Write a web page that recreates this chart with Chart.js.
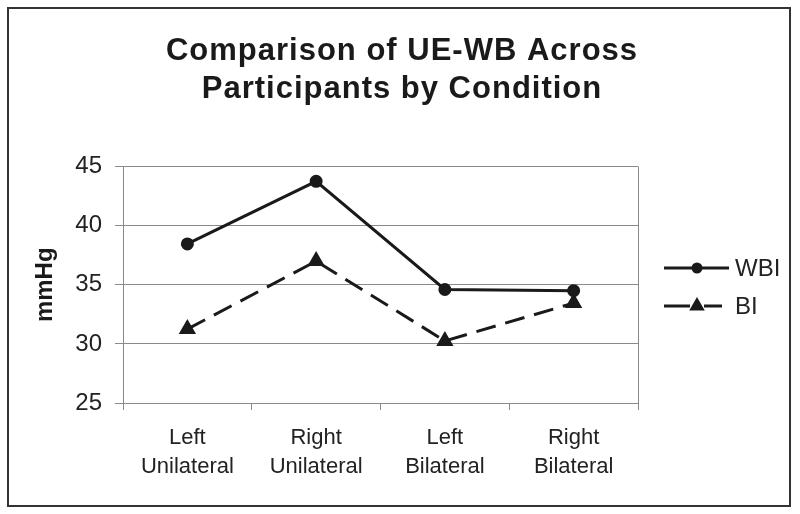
<!DOCTYPE html>
<html>
<head>
<meta charset="utf-8">
<script src="https://cdn.jsdelivr.net/npm/chart.js@4.4.0/dist/chart.umd.min.js"></script>
<style>
  html, body { margin: 0; padding: 0; background: #fff; }
  #wrap { position: relative; width: 800px; height: 514px; }
</style>
</head>
<body>
<div id="wrap"><canvas id="chart" width="800" height="514"></canvas></div>
<script>
// data
const categories = [['Left', 'Unilateral'], ['Right', 'Unilateral'], ['Left', 'Bilateral'], ['Right', 'Bilateral']];
const wbiValues = [38.45, 43.75, 34.6, 34.5];
const biValues = [31.25, 37.0, 30.25, 33.45];
const yTicks = [25, 30, 35, 40, 45];
const titleLines = ['Comparison of UE-WB Across', 'Participants by Condition'];

const FONT = '"Liberation Sans", Arial, sans-serif';
const INK = '#1a1a1a';
const GRID = '#8a8a8a';

// outer frame, centred title, right edge of the plot box
const framePlugin = {
  id: 'frame',
  beforeDraw(chart) {
    const ctx = chart.ctx;
    ctx.save();
    ctx.fillStyle = '#fff';
    ctx.fillRect(0, 0, chart.width, chart.height);
    ctx.restore();
  },
  afterDraw(chart) {
    const ctx = chart.ctx;
    const a = chart.chartArea;
    ctx.save();
    ctx.strokeStyle = GRID;
    ctx.lineWidth = 1;
    ctx.beginPath();
    ctx.moveTo(Math.round(a.right) + 0.5, a.top);
    ctx.lineTo(Math.round(a.right) + 0.5, a.bottom + 7);
    ctx.stroke();
    ctx.strokeStyle = '#333';
    ctx.lineWidth = 2;
    ctx.strokeRect(8, 8, 782, 498);

    // title (the built-in one centres on the plot, not the whole frame)
    ctx.fillStyle = '#1a1a1a';
    ctx.font = 'bold 31px ' + FONT;
    if ('letterSpacing' in ctx) ctx.letterSpacing = '1px';
    ctx.textAlign = 'center';
    ctx.textBaseline = 'alphabetic';
    titleLines.forEach((t, i) => ctx.fillText(t, 402, 60 + i * 38));
    ctx.restore();
  }
};

// legend drawn as line + marker like the original
const lineLegendPlugin = {
  id: 'lineLegend',
  afterDraw(chart) {
    const ctx = chart.ctx;
    const rows = [268, 306];
    ctx.save();
    chart.data.datasets.forEach((ds, i) => {
      const y = rows[i];
      ctx.strokeStyle = ds.borderColor;
      ctx.lineWidth = ds.borderWidth;
      ctx.beginPath();
      if (ds.borderDash && ds.borderDash.length) {
        ctx.moveTo(664, y); ctx.lineTo(690, y);
        ctx.moveTo(704, y); ctx.lineTo(722, y);
      } else {
        ctx.moveTo(664, y); ctx.lineTo(729, y);
      }
      ctx.stroke();
      Chart.helpers.drawPoint(ctx, {
        pointStyle: ds.pointStyle,
        radius: ds.pointRadius - 1,
        borderWidth: 1
      }, 697, y);
      ctx.fillStyle = ds.pointBackgroundColor;
      ctx.fill();
      ctx.fillStyle = '#222';
      ctx.font = '24px ' + FONT;
      ctx.textAlign = 'left';
      ctx.textBaseline = 'middle';
      ctx.fillText(ds.label, 735, y + 1);
    });
    ctx.restore();
  }
};

new Chart(document.getElementById('chart'), {
  type: 'line',
  data: {
    labels: categories,
    datasets: [
      {
        label: 'WBI',
        data: wbiValues,
        borderColor: INK,
        backgroundColor: INK,
        pointBackgroundColor: INK,
        pointBorderColor: INK,
        borderWidth: 3,
        pointStyle: 'circle',
        pointRadius: 5,
        tension: 0
      },
      {
        label: 'BI',
        data: biValues,
        borderColor: INK,
        backgroundColor: INK,
        pointBackgroundColor: INK,
        pointBorderColor: INK,
        borderWidth: 3,
        borderDash: [20, 10],
        pointStyle: 'triangle',
        pointRadius: 7,
        tension: 0
      }
    ]
  },
  options: {
    responsive: false,
    animation: false,
    layout: { padding: { top: 166.5, right: 162, bottom: 0, left: 0 } },
    plugins: {
      legend: { display: false },
      tooltip: { enabled: false },
      title: { display: false }
    },
    scales: {
      x: {
        offset: true,
        grid: {
          offset: true,
          drawOnChartArea: false,
          drawTicks: true,
          tickLength: 7,
          color: GRID
        },
        border: { color: GRID, width: 1 },
        ticks: {
          color: '#222',
          font: { family: FONT, size: 22, lineHeight: 1.3 },
          padding: 14,
          maxRotation: 0,
          autoSkip: false
        },
        afterFit(scale) { scale.height = 111; }
      },
      y: {
        min: 25,
        max: 45,
        afterBuildTicks(scale) { scale.ticks = yTicks.map(v => ({ value: v })); },
        grid: {
          color: GRID,
          drawTicks: true,
          tickLength: 8
        },
        border: { color: GRID, width: 1 },
        ticks: {
          color: '#222',
          font: { family: FONT, size: 24 },
          padding: 13
        },
        title: {
          display: true,
          text: 'mmHg',
          color: '#1a1a1a',
          font: { family: FONT, size: 24, weight: 'bold' },
          padding: { top: 31, bottom: 0 }
        },
        afterFit(scale) { scale.width = 123; }
      }
    }
  },
  plugins: [framePlugin, lineLegendPlugin]
});
</script>
</body>
</html>
